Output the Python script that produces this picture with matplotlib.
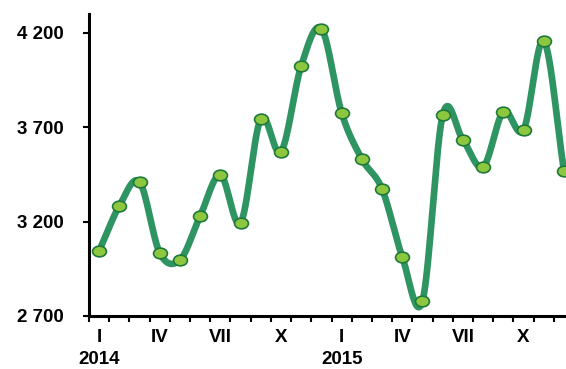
import numpy as np
import matplotlib
matplotlib.use("Agg")
import matplotlib.pyplot as plt
from matplotlib.path import Path
from matplotlib.transforms import Affine2D

months = list(range(1, 25))
values = [3045, 3283, 3410, 3034, 2997, 3230, 3448, 3193, 3745, 3570, 4026, 4222,
          3776, 3532, 3373, 3013, 2780, 3766, 3633, 3490, 3782, 3686, 4158, 3469]
month_labels = {1: "I", 4: "IV", 7: "VII", 10: "X", 13: "I", 16: "IV", 19: "VII", 22: "X"}
year_labels = {1: "2014", 13: "2015"}
y_ticks = [2700, 3200, 3700, 4200]

def smooth(x, y, n=30):
    x = np.asarray(x, float); y = np.asarray(y, float)
    px = np.concatenate([[2*x[0]-x[1]], x, [2*x[-1]-x[-2]]])
    py = np.concatenate([[2*y[0]-y[1]], y, [2*y[-1]-y[-2]]])
    xs, ys = [], []
    t = np.linspace(0, 1, n)
    for i in range(1, len(px)-2):
        p0 = np.array([px[i], py[i]]); p3 = np.array([px[i+1], py[i+1]])
        p1 = p0 + (np.array([px[i+1], py[i+1]]) - np.array([px[i-1], py[i-1]])) / 6
        p2 = p3 - (np.array([px[i+2], py[i+2]]) - np.array([px[i], py[i]])) / 6
        b = ((1-t)**3)[:, None]*p0 + (3*(1-t)**2*t)[:, None]*p1 + (3*(1-t)*t**2)[:, None]*p2 + (t**3)[:, None]*p3
        xs.append(b[:, 0]); ys.append(b[:, 1])
    return np.concatenate(xs), np.concatenate(ys)

plt.rcParams['font.family'] = ['Liberation Sans', 'DejaVu Sans']
fig = plt.figure(figsize=(5.66, 3.69), dpi=100)
ax = fig.add_axes([89/566, 53/369, 1 - 89/566, 302/369])

sx, sy = smooth(months, values)
ax.plot(sx, sy, color="#2E9461", lw=4.8, solid_capstyle="round", zorder=2)

ell = Path.unit_circle().transformed(Affine2D().scale(1.3, 1.0))
ax.plot(months, values, linestyle="none", marker=ell, markersize=10,
        markerfacecolor="#8DC63F", markeredgecolor="#1E7A3A", markeredgewidth=1.2, zorder=3)

FS = 13.5
ax.set_xlim(0.5, 24.1)
ax.set_ylim(2700, 4300)
ax.set_yticks(y_ticks)
ax.set_yticklabels([f"{v:,}".replace(",", " ") for v in y_ticks], fontsize=FS, fontweight="bold")
ax.set_xticks(np.arange(0.5, 24.5, 1))
ax.set_xticklabels([])
ax.tick_params(axis="x", length=4, width=1.5, direction="out")
ax.tick_params(axis="y", length=4, width=1.5, direction="out", pad=14)

for m, lab in month_labels.items():
    ax.text(m, -0.072, lab, transform=ax.get_xaxis_transform(), ha="center", va="center",
            fontsize=FS, fontweight="bold")
for m, lab in year_labels.items():
    ax.text(m, -0.145, lab, transform=ax.get_xaxis_transform(), ha="center", va="center",
            fontsize=FS, fontweight="bold")

for s in ["top", "right"]:
    ax.spines[s].set_visible(False)
for s in ["left", "bottom"]:
    ax.spines[s].set_linewidth(2.2)
    ax.spines[s].set_color("black")

fig.savefig("out.png", dpi=100)
